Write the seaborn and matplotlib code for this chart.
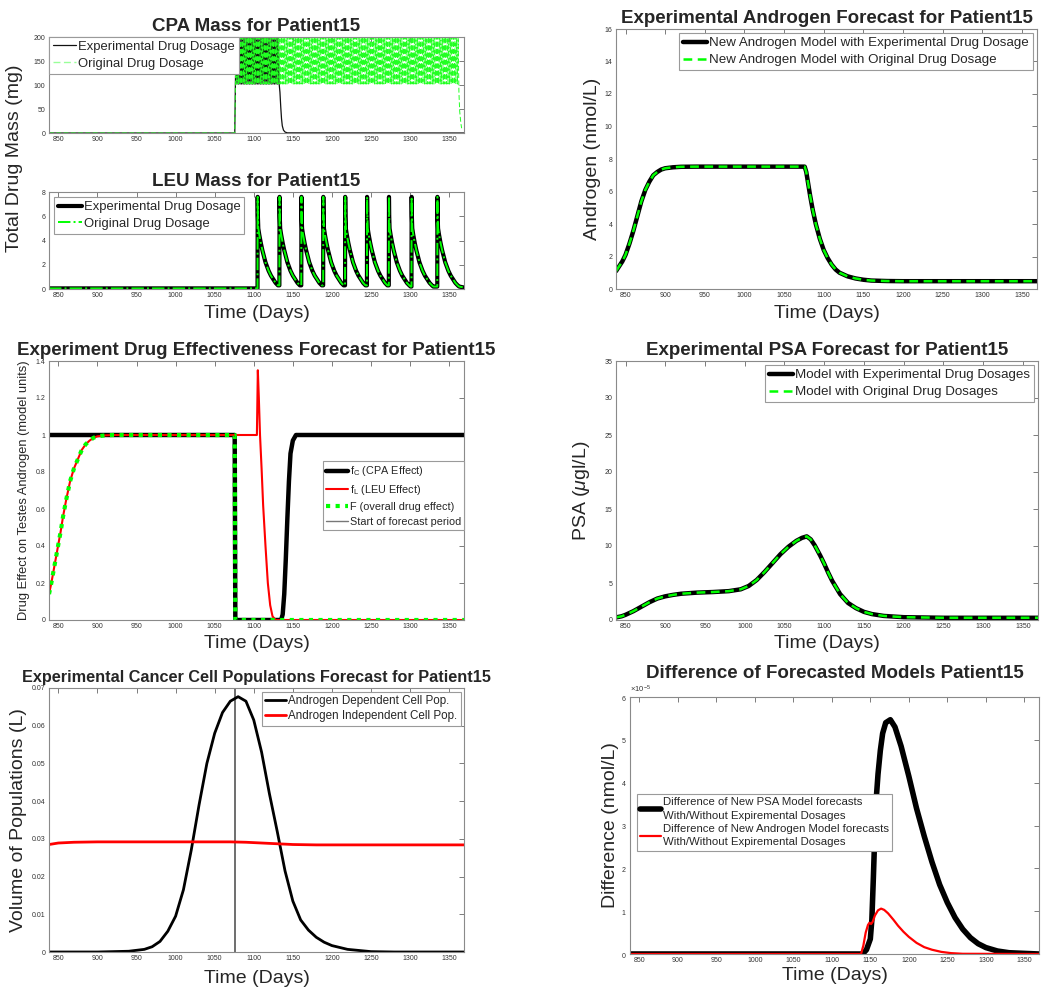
import numpy as np
import matplotlib
matplotlib.use('Agg')
import matplotlib.pyplot as plt
import seaborn as sns
from matplotlib.lines import Line2D
from matplotlib.ticker import FuncFormatter, ScalarFormatter

sns.set_theme(style='white')
plt.rcParams['font.family'] = ['Liberation Sans', 'DejaVu Sans']
plt.rcParams['mathtext.fontset'] = 'custom'
plt.rcParams['mathtext.rm'] = 'Liberation Sans'
plt.rcParams['mathtext.it'] = 'Liberation Sans:italic'
plt.rcParams['mathtext.bf'] = 'Liberation Sans:bold'

GREEN = '#00ff00'
day_range = (838, 1369)
day_ticks = [850, 900, 950, 1000, 1050, 1100, 1150, 1200, 1250, 1300, 1350]
forecast_start = 1076

# CPA dosing (mg): band between trough and peak
cpa_levels = [102, 200]
cpa_dose_step = 1.0
cpa_exp_stop = 1133
cpa_orig_stop = 1362
cpa_exp_tail_t = [1133.5, 1134.5, 1135.5, 1136.5, 1138, 1140, 1143, 1369]
cpa_exp_tail_mg = [85, 55, 30, 15, 6, 2, 0.3, 0]
cpa_orig_tail_t = [1362.5, 1363.5, 1365, 1366]
cpa_orig_tail_mg = [85, 45, 20, 10]

# LEU (mg): depot injections and the decay after each one
leu_dose_days = [1105, 1133, 1161, 1189, 1217, 1245, 1273, 1302, 1335]
leu_profile_day = [0, 0.3, 0.8, 2, 4, 6, 8, 10, 12, 14, 17, 20, 23, 26, 27.8]
leu_profile_mg = [7.6, 6.0, 5.0, 4.5, 3.8, 3.2, 2.7, 2.2, 1.85, 1.5, 1.1, 0.8, 0.5, 0.3, 0.2]

# androgen (nmol/L)
andro_t = [838, 842, 846, 850, 855, 860, 865, 870, 875, 880, 885, 890, 895, 900, 910,
           920, 940, 1000, 1076, 1078, 1080, 1083, 1086, 1090, 1095, 1100, 1105, 1110,
           1115, 1120, 1130, 1140, 1150, 1160, 1180, 1200, 1369]
andro_v = [1.1, 1.4, 1.7, 2.1, 2.8, 3.6, 4.5, 5.4, 6.1, 6.6, 7.0, 7.2, 7.35, 7.43, 7.49,
           7.52, 7.53, 7.53, 7.53, 7.2, 6.6, 5.7, 4.9, 4.0, 3.1, 2.4, 1.9, 1.5,
           1.2, 1.0, 0.78, 0.65, 0.57, 0.52, 0.49, 0.48, 0.48]

# PSA (ug/L)
psa_t = [838, 845, 850, 860, 870, 880, 890, 900, 910, 920, 940, 960, 980, 995, 1005, 1015,
         1025, 1035, 1045, 1055, 1065, 1072, 1078, 1083, 1088, 1095, 1100, 1105, 1110,
         1120, 1130, 1140, 1150, 1160, 1175, 1200, 1250, 1369]
psa_v = [0.35, 0.5, 0.7, 1.2, 1.8, 2.4, 2.9, 3.2, 3.4, 3.55, 3.7, 3.78, 3.9, 4.15, 4.6, 5.4,
         6.5, 7.7, 8.9, 9.9, 10.7, 11.1, 11.3, 10.9, 10.1, 8.7, 7.6, 6.4, 5.3,
         3.5, 2.3, 1.6, 1.1, 0.8, 0.55, 0.38, 0.3, 0.3]

# drug effects on testes androgen (model units)
fc_t = [838, 1075.6, 1076.4, 1135, 1137, 1139, 1141, 1143, 1145, 1147, 1150, 1154, 1369]
fc_v = [1, 1, 0, 0, 0.03, 0.14, 0.33, 0.55, 0.75, 0.9, 0.97, 1, 1]
fl_t = [838, 841, 844, 847, 850, 853, 856, 860, 865, 870, 875, 880, 885, 890, 895, 900,
        910, 920, 1104, 1105.2, 1106.5, 1108, 1110, 1112, 1115, 1118, 1121, 1124, 1128, 1369]
fl_v = [0.14, 0.2, 0.27, 0.34, 0.41, 0.48, 0.56, 0.65, 0.75, 0.82, 0.87, 0.92, 0.95, 0.97,
        0.985, 0.993, 0.998, 1, 1, 1.35, 1.2, 1.0, 0.82, 0.62, 0.4, 0.2, 0.08, 0.02, 0, 0]
f_after_t = [1075.6, 1076.4, 1369]
f_after_v = [1, 0, 0]

# cancer cell populations (L)
ad_t = [838, 900, 940, 960, 970, 980, 990, 1000, 1010, 1020, 1030, 1040, 1050, 1060, 1070,
        1080, 1090, 1100, 1110, 1120, 1130, 1140, 1150, 1160, 1170, 1180, 1190, 1200, 1220,
        1250, 1280, 1369]
ad_v = [0, 0, 0.0002, 0.0007, 0.0014, 0.0028, 0.0055, 0.0095, 0.0165, 0.027, 0.039, 0.05,
        0.058, 0.0635, 0.0665, 0.0677, 0.0665, 0.0615, 0.053, 0.042, 0.032, 0.0215, 0.0135,
        0.0085, 0.0058, 0.0039, 0.0026, 0.0017, 0.0007, 0.0001, 0, 0]
ai_t = [838, 850, 870, 900, 1000, 1070, 1090, 1110, 1130, 1150, 1180, 1369]
ai_v = [0.0285, 0.0289, 0.0291, 0.0292, 0.0292, 0.0292, 0.0291, 0.0289, 0.0287, 0.0285,
        0.0284, 0.0284]

# difference of forecasts (nmol/L)
dpsa_t = [838, 1140, 1145, 1148, 1150, 1152, 1154, 1156, 1158, 1160, 1163, 1166, 1170, 1176,
          1182, 1190, 1200, 1210, 1220, 1230, 1240, 1250, 1260, 1270, 1280, 1290, 1300, 1315,
          1330, 1369]
dpsa_v = [0, 0, 0.1e-5, 0.25e-5, 0.35e-5, 0.8e-5, 1.8e-5, 2.9e-5, 3.7e-5, 4.2e-5, 4.75e-5,
          5.15e-5, 5.4e-5, 5.47e-5, 5.3e-5, 4.85e-5, 4.15e-5, 3.4e-5, 2.75e-5, 2.15e-5,
          1.62e-5, 1.2e-5, 0.85e-5, 0.58e-5, 0.38e-5, 0.24e-5, 0.15e-5, 0.07e-5, 0.03e-5, 0]
dand_t = [838, 1138, 1141, 1144, 1147, 1149, 1151, 1153, 1156, 1160, 1164, 1168, 1173, 1180,
          1186, 1193, 1200, 1210, 1220, 1230, 1242, 1255, 1270, 1369]
dand_v = [0, 0, 0.2e-5, 0.5e-5, 0.68e-5, 0.73e-5, 0.7e-5, 0.75e-5, 0.9e-5, 1.02e-5, 1.06e-5,
          1.03e-5, 0.95e-5, 0.8e-5, 0.66e-5, 0.52e-5, 0.4e-5, 0.26e-5, 0.16e-5, 0.1e-5,
          0.05e-5, 0.02e-5, 0.005e-5, 0]


def cpa_band(stop):
    t = np.arange(forecast_start + 0.5, stop, cpa_dose_step)
    mg = np.array([cpa_levels[i % 2] for i in range(len(t))], dtype=float)
    t = np.concatenate([[838, forecast_start - 0.3], t])
    mg = np.concatenate([[0, 0], mg])
    return t, mg


def leu_curve():
    t, mg = [838, leu_dose_days[0] - 0.2], [0.05, 0.05]
    for i, d in enumerate(leu_dose_days):
        nxt = leu_dose_days[i + 1] if i + 1 < len(leu_dose_days) else day_range[1] + 0.5
        for p, v in zip(leu_profile_day, leu_profile_mg):
            if d + p < nxt - 0.2:
                t.append(d + p)
                mg.append(v)
        if i + 1 == len(leu_dose_days):
            t.append(day_range[1] + 0.5)
            mg.append(0.12)
        else:
            t.append(nxt - 0.2)
            mg.append(mg[-1])
    return t, mg


def line(ax, x, y, **kw):
    sns.lineplot(x=list(x), y=list(y), ax=ax, estimator=None, sort=False, errorbar=None, **kw)


def style(ax, ylim, yticks, fmt=None):
    ax.set_xlim(*day_range)
    ax.set_ylim(*ylim)
    ax.set_xticks(day_ticks)
    ax.set_yticks(yticks)
    if fmt is not None:
        ax.yaxis.set_major_formatter(FuncFormatter(fmt))
    ax.tick_params(direction='in', length=3.5, width=0.6, labelsize=5, colors='#666666',
                   labelcolor='#333333', top=True, right=True, pad=2.5)
    for s in ax.spines.values():
        s.set_color('#8a8a8a')
        s.set_linewidth(0.8)
    ax.set_xlabel('')
    ax.set_ylabel('')


def legend(ax, size, handles=None, labels=None, hl=1.8, ls=0.35, **kw):
    args = [] if handles is None else [handles, labels]
    lg = ax.legend(*args, fontsize=size, frameon=True, fancybox=False, framealpha=1,
                   edgecolor='#9a9a9a', handlelength=hl, handletextpad=0.15,
                   borderpad=0.3, labelspacing=ls, **kw)
    lg.get_frame().set_linewidth(0.8)
    return lg


fig = plt.figure(figsize=(10.5, 9.96), dpi=100)
H = 996.0
W = 1050.0


def add_ax(l, r, t, b):
    return fig.add_axes([l / W, 1 - b / H, (r - l) / W, (b - t) / H])


ax_cpa = add_ax(49, 464, 37, 133)
ax_leu = add_ax(49, 464, 192, 289)
ax_eff = add_ax(49, 464, 361, 620)
ax_pop = add_ax(49, 464, 688, 952)
ax_and = add_ax(616, 1037, 29, 289)
ax_psa = add_ax(616, 1038, 361, 620)
ax_dif = add_ax(630, 1039, 697, 954)

title_kw = dict(fontsize=13.5, fontweight='bold', pad=4)
lab_size = 14

# CPA mass
t_o, m_o = cpa_band(cpa_orig_stop)
t_e, m_e = cpa_band(cpa_exp_stop)
line(ax_cpa, np.concatenate([t_e, cpa_exp_tail_t]), np.concatenate([m_e, cpa_exp_tail_mg]),
     color='#111111', linewidth=0.9, label='Experimental Drug Dosage')
line(ax_cpa, np.concatenate([t_o, cpa_orig_tail_t]), np.concatenate([m_o, cpa_orig_tail_mg]),
     color='#22ff22', linewidth=0.7, linestyle=(0, (5, 2.5)), label='Original Drug Dosage')
style(ax_cpa, (0, 200), [0, 50, 100, 150, 200])
ax_cpa.set_title('CPA Mass for Patient15', **title_kw)
lg = legend(ax_cpa, 9.4, loc='upper left', borderaxespad=0)
lg.get_lines()[1].set_color('#99ff99')
lg.get_lines()[1].set_linewidth(1.0)

# LEU mass
lt, lm = leu_curve()
line(ax_leu, lt, lm, color='black', linewidth=3, label='Experimental Drug Dosage')
line(ax_leu, lt, lm, color=GREEN, linewidth=1.4, linestyle='-.', label='Original Drug Dosage')
style(ax_leu, (0, 8), [0, 2, 4, 6, 8])
ax_leu.set_title('LEU Mass for Patient15', **title_kw)
ax_leu.set_xlabel('Time (Days)', fontsize=lab_size)
ax_leu.xaxis.set_label_coords(0.5, -0.17)
legend(ax_leu, 9.4, loc='upper left', borderaxespad=0.4)
fig.text(15 / W, 1 - 158 / H, 'Total Drug Mass (mg)', rotation=90, fontsize=lab_size,
         ha='center', va='center')

# drug effectiveness
gray = ax_eff.plot([forecast_start, forecast_start], [0, 1], color='#777777', linewidth=1,
                   zorder=1)[0]
line(ax_eff, fc_t, fc_v, color='black', linewidth=3.2, label=r'f$_\mathregular{C}$ (CPA Effect)')
line(ax_eff, fl_t, fl_v, color='red', linewidth=1.5, label=r'f$_\mathregular{L}$ (LEU Effect)')
k = fl_t.index(920)
line(ax_eff, fl_t[:k + 1] + f_after_t, fl_v[:k + 1] + f_after_v, color=GREEN, linewidth=3,
     linestyle=(0, (1, 1.3)), label='F (overall drug effect)')
style(ax_eff, (0, 1.4), [0, 0.2, 0.4, 0.6, 0.8, 1, 1.2, 1.4], lambda v, p: f'{v:g}')
ax_eff.set_title('Experiment Drug Effectiveness Forecast for Patient15', **title_kw)
ax_eff.set_xlabel('Time (Days)', fontsize=lab_size)
ax_eff.xaxis.set_label_coords(0.5, -0.058)
ax_eff.set_ylabel('Drug Effect on Testes Androgen (model units)', fontsize=9.3)
ax_eff.yaxis.set_label_coords(-0.046, 0.5)
h, l = ax_eff.get_legend_handles_labels()
h = h + [Line2D([], [], color='#777777', linewidth=1)]
l = l + ['Start of forecast period']
legend(ax_eff, 7.8, h, l, hl=2.0, ls=0.45, loc='center right',
       bbox_to_anchor=(1.0, 0.48), borderaxespad=0)

# cancer cell populations
ax_pop.axvline(forecast_start, color='#555555', linewidth=1.2, zorder=1)
line(ax_pop, ad_t, ad_v, color='black', linewidth=2, label='Androgen Dependent Cell Pop.')
line(ax_pop, ai_t, ai_v, color='red', linewidth=2, label='Androgen Independent Cell Pop.')
style(ax_pop, (0, 0.07), [0, 0.01, 0.02, 0.03, 0.04, 0.05, 0.06, 0.07],
      lambda v, p: '0' if v == 0 else f'{v:.2f}')
ax_pop.set_title('Experimental Cancer Cell Populations Forecast for Patient15',
                 fontsize=11.7, fontweight='bold', pad=4)
ax_pop.set_xlabel('Time (Days)', fontsize=lab_size)
ax_pop.xaxis.set_label_coords(0.5, -0.068)
ax_pop.set_ylabel('Volume of Populations (L)', fontsize=lab_size)
ax_pop.yaxis.set_label_coords(-0.053, 0.5)
legend(ax_pop, 8.4, loc='upper right', borderaxespad=0.3, ls=0.3)

# androgen
line(ax_and, andro_t, andro_v, color='black', linewidth=3.2,
     label='New Androgen Model with Experimental Drug Dosage')
line(ax_and, andro_t, andro_v, color=GREEN, linewidth=1.8, linestyle=(0, (3.5, 2.2)),
     label='New Androgen Model with Original Drug Dosage')
style(ax_and, (0, 16), [0, 2, 4, 6, 8, 10, 12, 14, 16])
ax_and.set_title('Experimental Androgen Forecast for Patient15', **title_kw)
ax_and.set_xlabel('Time (Days)', fontsize=lab_size)
ax_and.xaxis.set_label_coords(0.5, -0.062)
ax_and.set_ylabel('Androgen (nmol/L)', fontsize=lab_size)
ax_and.yaxis.set_label_coords(-0.036, 0.5)
legend(ax_and, 9.6, loc='upper right', borderaxespad=0.3)

# PSA
line(ax_psa, psa_t, psa_v, color='black', linewidth=3.2, label='Model with Experimental Drug Dosages')
line(ax_psa, psa_t, psa_v, color=GREEN, linewidth=1.8, linestyle=(0, (3.5, 2.2)),
     label='Model with Original Drug Dosages')
style(ax_psa, (0, 35), [0, 5, 10, 15, 20, 25, 30, 35])
ax_psa.set_title('Experimental PSA Forecast for Patient15', **title_kw)
ax_psa.set_xlabel('Time (Days)', fontsize=lab_size)
ax_psa.xaxis.set_label_coords(0.5, -0.058)
ax_psa.set_ylabel(r'PSA ($\mu$gl/L)', fontsize=lab_size)
ax_psa.yaxis.set_label_coords(-0.057, 0.5)
legend(ax_psa, 9.6, loc='upper right', borderaxespad=0.3)

# difference
line(ax_dif, dpsa_t, dpsa_v, color='black', linewidth=4,
     label='Difference of New PSA Model forecasts\nWith/Without Expiremental Dosages')
line(ax_dif, dand_t, dand_v, color='red', linewidth=1.6,
     label='Difference of New Androgen Model forecasts\nWith/Without Expiremental Dosages')
style(ax_dif, (0, 6e-5), [0, 1e-5, 2e-5, 3e-5, 4e-5, 5e-5, 6e-5])
fmt = ScalarFormatter(useMathText=True)
fmt.set_powerlimits((0, 0))
ax_dif.yaxis.set_major_formatter(fmt)
ax_dif.yaxis.get_offset_text().set_fontsize(5.5)
ax_dif.set_title('Difference of Forecasted Models Patient15', **title_kw)
ax_dif.set_xlabel('Time (Days)', fontsize=lab_size)
ax_dif.xaxis.set_label_coords(0.5, -0.05)
ax_dif.set_ylabel('Difference (nmol/L)', fontsize=lab_size)
ax_dif.yaxis.set_label_coords(-0.027, 0.5)
lg = legend(ax_dif, 8.2, loc='upper left', bbox_to_anchor=(0.017, 0.623), borderaxespad=0,
            ls=0.25)
for txt in lg.get_texts():
    txt.set_linespacing(1.45)

fig.savefig('out.png', dpi=100)
